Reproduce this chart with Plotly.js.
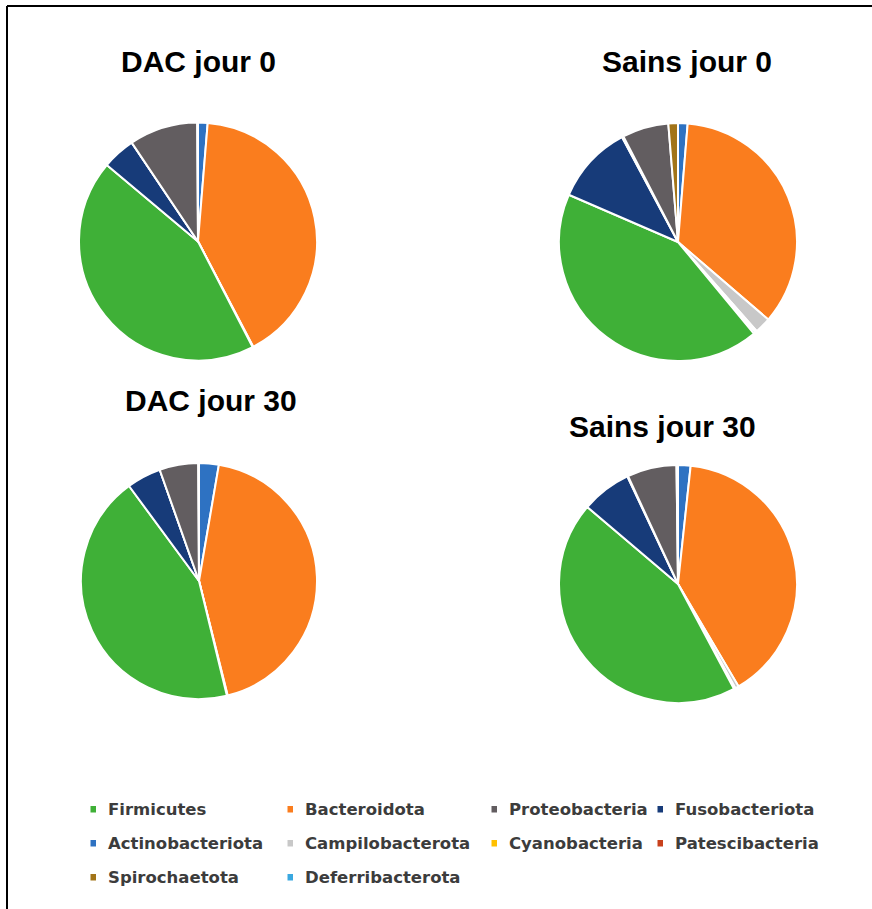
<!DOCTYPE html>
<html>
<head>
<meta charset="utf-8">
<script src="https://cdn.plot.ly/plotly-3.0.1.min.js"></script>
<style>
html,body{margin:0;padding:0;background:#fff;}
#chart{width:872px;height:909px;}
</style>
</head>
<body>
<div id="chart"></div>
<script>
// Phyla (slice order, alphabetical as in the source chart)
const phyla = ["Actinobacteriota","Bacteroidota","Campilobacterota","Cyanobacteria","Deferribacterota","Firmicutes","Fusobacteriota","Patescibacteria","Proteobacteria","Spirochaetota"];
// Relative abundance (%) per group
const dacJour0   = [1.3, 41.0, 0.1, 0.0, 0.0, 43.7, 4.5, 0.0, 9.3, 0.1];
const sainsJour0 = [1.3, 35.0, 2.2, 0.2, 0.3, 42.5, 10.7, 0.2, 6.3, 1.3];
const dacJour30  = [2.7, 43.4, 0.1, 0.0, 0.0, 43.7, 4.7, 0.0, 5.3, 0.1];
const sainsJour30= [1.7, 39.8, 0.5, 0.1, 0.1, 44.0, 6.8, 0.1, 6.7, 0.2];
const panelTitles = ["DAC jour 0","Sains jour 0","DAC jour 30","Sains jour 30"];
// Legend order as shown in the source
const legendOrder = ["Firmicutes","Bacteroidota","Proteobacteria","Fusobacteriota","Actinobacteriota","Campilobacterota","Cyanobacteria","Patescibacteria","Spirochaetota","Deferribacterota"];

// Styles
const colorMap = {
  "Firmicutes":"#3fb037","Bacteroidota":"#fa7d1e","Proteobacteria":"#625d60","Fusobacteriota":"#173b79",
  "Actinobacteriota":"#2e72c2","Campilobacterota":"#c8c8c8","Cyanobacteria":"#ffc000","Patescibacteria":"#c8411c",
  "Spirochaetota":"#a27418","Deferribacterota":"#3aa8e0"
};
const W = 872, H = 909;
const px = x => x / W;
const py = y => 1 - y / H;

// pie geometry (pixel centers and radius)
const pieGeom = [
  {cx:198, cy:241.5, r:119},
  {cx:678, cy:242,   r:119},
  {cx:199, cy:581,   r:118},
  {cx:678, cy:584,   r:119}
];
const titlePos = [
  {x:198, y:62},
  {x:687, y:62},
  {x:211, y:400},
  {x:662, y:426}
];
const seriesList = [dacJour0, sainsJour0, dacJour30, sainsJour30];

const traces = seriesList.map((vals, i) => {
  const g = pieGeom[i];
  return {
    type: "pie",
    labels: phyla,
    values: vals,
    sort: false,
    direction: "clockwise",
    rotation: 0,
    textinfo: "none",
    hoverinfo: "label+percent",
    showlegend: false,
    marker: {colors: phyla.map(p => colorMap[p]), line: {color: "#ffffff", width: 2}},
    domain: {x: [px(g.cx - g.r), px(g.cx + g.r)], y: [py(g.cy + g.r), py(g.cy - g.r)]}
  };
});

const annotations = panelTitles.map((t, i) => ({
  text: t, xref: "paper", yref: "paper",
  x: px(titlePos[i].x), y: py(titlePos[i].y),
  xanchor: "center", yanchor: "middle", showarrow: false,
  font: {family: "Liberation Sans, Arial, sans-serif", size: 30, color: "#000000", weight: "bold"}
}));

// custom legend grid
const legendColX = [106, 303, 507, 673];
const legendRowY = [809, 843, 877];
const shapes = [];
legendOrder.forEach((name, k) => {
  const col = k % 4, row = Math.floor(k / 4);
  const tx = legendColX[col], ty = legendRowY[row];
  annotations.push({
    text: name, xref: "paper", yref: "paper",
    x: px(tx), y: py(ty), xanchor: "left", yanchor: "middle", showarrow: false,
    font: {family: "DejaVu Sans, sans-serif", size: 16.5, color: "#3c3c3c", weight: "bold"}
  });
  shapes.push({
    type: "rect", xref: "paper", yref: "paper",
    x0: px(tx - 15.5), x1: px(tx - 10), y0: py(ty + 3.5), y1: py(ty - 3),
    fillcolor: colorMap[name], line: {width: 0}
  });
});
// frame lines (top and left)
shapes.push({type:"line", xref:"paper", yref:"paper", x0:px(7), x1:1, y0:py(6), y1:py(6), line:{color:"#000", width:2}});
shapes.push({type:"line", xref:"paper", yref:"paper", x0:px(7), x1:px(7), y0:py(6), y1:0, line:{color:"#000", width:2}});

const layout = {
  width: W, height: H,
  margin: {l:0, r:0, t:0, b:0},
  paper_bgcolor: "#ffffff",
  plot_bgcolor: "#ffffff",
  showlegend: false,
  annotations: annotations,
  shapes: shapes
};

Plotly.newPlot("chart", traces, layout, {displayModeBar: false, staticPlot: true});
</script>
</body>
</html>
